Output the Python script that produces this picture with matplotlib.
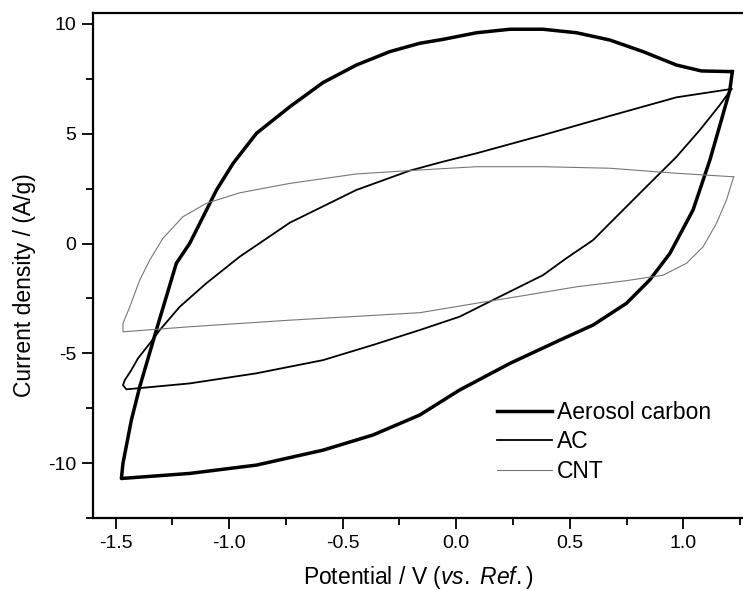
import matplotlib
matplotlib.use("Agg")
import matplotlib.pyplot as plt
from matplotlib.ticker import MultipleLocator

plt.rcParams['font.family'] = ['Liberation Sans', 'DejaVu Sans']
plt.rcParams['mathtext.fontset'] = 'custom'
plt.rcParams['mathtext.rm'] = 'Liberation Sans'
plt.rcParams['mathtext.it'] = 'Liberation Sans:italic'

# Aerosol carbon loop
aero_x = [1.216, 1.080, 0.970, 0.823, 0.676, 0.530, 0.382, 0.236, 0.089, -0.058,
          -0.161, -0.293, -0.440, -0.587, -0.733, -0.880, -0.983, -1.056, -1.115,
          -1.174, -1.233, -1.277, -1.321, -1.394, -1.431, -1.468, -1.475,
          -1.174, -0.880, -0.587, -0.367, -0.161, 0.015, 0.236, 0.456, 0.603,
          0.750, 0.852, 0.941, 1.043, 1.117, 1.168, 1.205, 1.216]
aero_y = [7.83, 7.86, 8.13, 8.74, 9.27, 9.60, 9.76, 9.76, 9.60, 9.30,
          9.12, 8.74, 8.13, 7.33, 6.23, 5.02, 3.65, 2.44, 1.22,
          0.01, -0.90, -2.42, -3.94, -6.52, -8.04, -10.01, -10.70,
          -10.47, -10.09, -9.41, -8.72, -7.81, -6.67, -5.46, -4.40, -3.71,
          -2.72, -1.66, -0.45, 1.53, 3.80, 5.63, 6.99, 7.83]

# AC loop
ac_x = [1.212, 0.970, 0.676, 0.382, 0.089, -0.058, -0.205, -0.440, -0.733,
        -0.954, -1.101, -1.218, -1.306, -1.350, -1.402, -1.431, -1.460, -1.468,
        -1.453, -1.174, -0.880, -0.587, -0.367, -0.161, 0.015, 0.162, 0.382,
        0.485, 0.603, 0.676, 0.823, 0.970, 1.073, 1.161, 1.212]
ac_y = [7.04, 6.66, 5.81, 4.94, 4.11, 3.73, 3.32, 2.44, 0.95,
        -0.60, -1.81, -2.88, -3.94, -4.55, -5.23, -5.76, -6.22, -6.45,
        -6.64, -6.37, -5.91, -5.31, -4.62, -3.94, -3.33, -2.57, -1.44,
        -0.67, 0.16, 0.92, 2.44, 3.95, 5.17, 6.31, 7.04]

# CNT loop
cnt_x = [1.222, 0.970, 0.676, 0.382, 0.089, -0.161, -0.440, -0.733, -0.954,
         -1.101, -1.204, -1.292, -1.350, -1.394, -1.438, -1.468, -1.468,
         -1.174, -0.733, -0.161, 0.089, 0.309, 0.530, 0.750, 0.911, 1.014,
         1.087, 1.146, 1.190, 1.222]
cnt_y = [3.04, 3.20, 3.43, 3.50, 3.50, 3.35, 3.17, 2.74, 2.31,
         1.83, 1.22, 0.24, -0.75, -1.66, -2.88, -3.64, -4.02,
         -3.79, -3.49, -3.15, -2.72, -2.35, -1.97, -1.69, -1.44, -0.90,
         -0.15, 0.92, 1.98, 3.04]

fig = plt.figure(figsize=(7.43, 5.90), dpi=100)
ax = fig.add_axes([93 / 743, 72 / 590, 650 / 743, 505 / 590])

ax.plot(aero_x, aero_y, color='black', lw=2.5, label='Aerosol carbon')
ax.plot(ac_x, ac_y, color='black', lw=1.3, label='AC')
ax.plot(cnt_x, cnt_y, color='#777777', lw=0.8, label='CNT')

ax.set_xlim(-1.6, 1.263)
ax.set_ylim(-12.5, 10.5)
ax.xaxis.set_minor_locator(MultipleLocator(0.25))
ax.yaxis.set_minor_locator(MultipleLocator(2.5))
ax.set_xticks([-1.5, -1.0, -0.5, 0.0, 0.5, 1.0])
ax.set_xticklabels(['-1.5', '-1.0', '-0.5', '0.0', '0.5', '1.0'])
ax.set_yticks([-10, -5, 0, 5, 10])
ax.set_yticklabels(['-10', '-5', '0', '5', '10'])

ax.tick_params(which='major', direction='out', length=8, width=1.3, labelsize=14, pad=4)
ax.tick_params(which='minor', direction='out', length=5, width=1.3)
ax.spines['right'].set_visible(False)
for s in ['left', 'bottom', 'top']:
    ax.spines[s].set_linewidth(1.6)

ax.set_xlabel(r'Potential / V ($\mathit{vs.}$ $\mathit{Ref.}$)', fontsize=16.5)
ax.xaxis.set_label_coords(0.5, -(584 - 518) / 505)
ax.xaxis.label.set_va('baseline')
ax.set_ylabel('Current density / (A/g)', fontsize=16.5)
ax.yaxis.set_label_coords((36 - 93) / 650, (518 - 285) / 505)

ax.legend(loc='upper left', bbox_to_anchor=(497 / 743, 1 - 401 / 590),
          bbox_transform=fig.transFigure, frameon=False, fontsize=16.5,
          handlelength=2.4, handletextpad=0.22, labelspacing=0.28, borderaxespad=0,
          borderpad=0)

fig.savefig('out.png', dpi=100)
